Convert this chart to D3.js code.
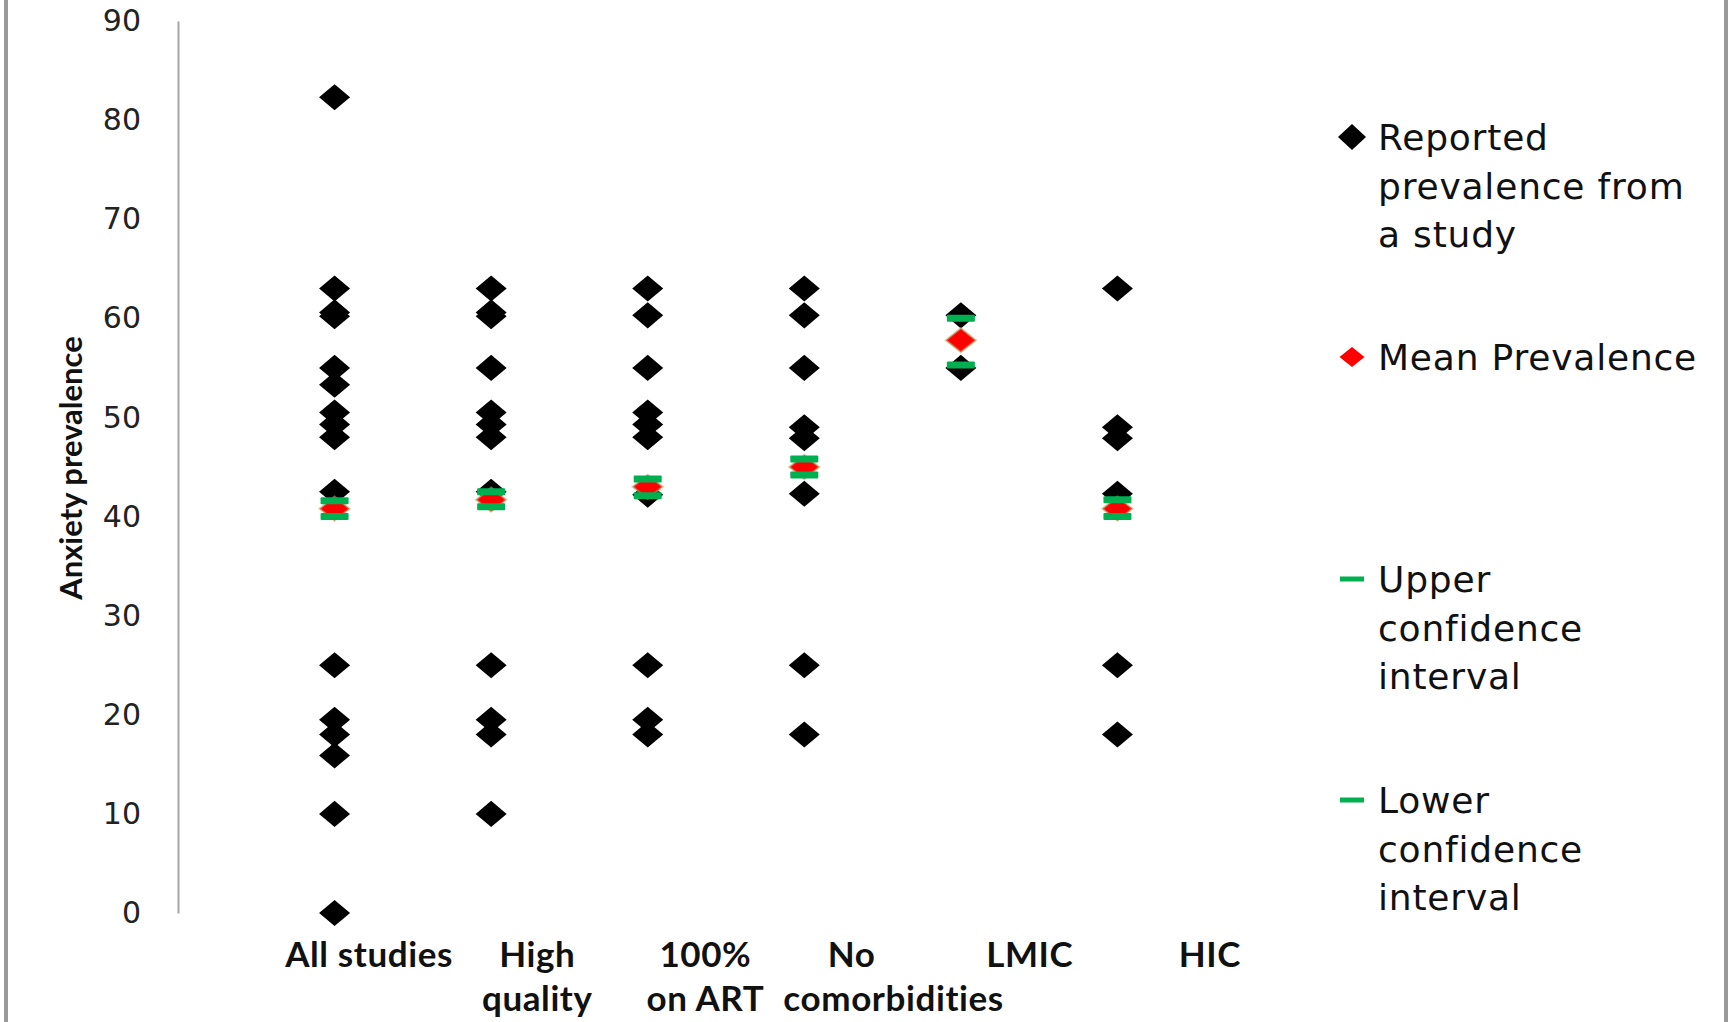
<!DOCTYPE html>
<html>
<head>
<meta charset="utf-8">
<script src="https://cdn.jsdelivr.net/npm/d3@7.9.0/dist/d3.min.js"></script>
<style>
  body { margin: 0; background: #fff; }
  svg { display: block; }
</style>
</head>
<body>
<svg id="chart" width="1729" height="1022"></svg>
<script>
// categories along the x axis
const categories = ["All studies", "High quality", "100% on ART", "No comorbidities", "LMIC", "HIC"];
const labelLines = [["All studies"], ["High", "quality"], ["100%", "on ART"], ["No", "comorbidities"], ["LMIC"], ["HIC"]];

// reported prevalence from each study, per category
const reported = [
  [82.3, 63, 60.6, 60.2, 55, 53.3, 50.5, 49.3, 48, 42.5, 25, 19.5, 18, 15.9, 10, 0],
  [63, 60.6, 60.2, 55, 50.5, 49.3, 48, 42.5, 25, 19.5, 18, 10],
  [63, 60.3, 55, 50.5, 49.3, 48, 42.2, 25, 19.5, 18],
  [63, 60.3, 55, 49, 47.9, 42.3, 25, 18],
  [60.3, 55],
  [63, 49, 47.9, 42.3, 25, 18]
];
const meanPrev = [40.8, 41.7, 43.0, 45.0, 57.8, 40.8];
const upperCI = [41.6, 42.5, 43.8, 45.8, 60.0, 41.7];
const lowerCI = [40.0, 41.0, 42.1, 44.2, 55.3, 40.0];
const yTicks = [0, 10, 20, 30, 40, 50, 60, 70, 80, 90];

const legendItems = [
  { kind: "black", lines: ["Reported", "prevalence from", "a study"] },
  { kind: "red", lines: ["Mean Prevalence"] },
  { kind: "green", lines: ["Upper", "confidence", "interval"] },
  { kind: "green", lines: ["Lower", "confidence", "interval"] }
];

const svg = d3.select("#chart");

// frame
svg.append("line").attr("x1", 6).attr("x2", 6).attr("y1", 0).attr("y2", 1022)
  .attr("stroke", "#9a9a9a").attr("stroke-width", 4);
svg.append("line").attr("x1", 1726).attr("x2", 1726).attr("y1", 0).attr("y2", 1022)
  .attr("stroke", "#9a9a9a").attr("stroke-width", 4);

const plotLeft = 178, plotRight = 1274;
const x = d3.scaleLinear().domain([0, 7]).range([plotLeft, plotRight]);
const y = d3.scaleLinear().domain([0, 90]).range([913, 21]);
const xLabel = d3.scaleBand().domain(categories).range([285, 1294]);

// y axis
const yAxis = svg.append("g")
  .attr("transform", `translate(${plotLeft},0)`)
  .call(d3.axisLeft(y).tickValues(yTicks).tickSize(0).tickPadding(37));
yAxis.select(".domain").attr("stroke", "#a6a6a6").attr("stroke-width", 2);
yAxis.selectAll("text")
  .attr("font-family", "DejaVu Sans")
  .attr("font-size", 30)
  .attr("fill", "#222");

svg.append("text")
  .attr("transform", `translate(82,468) rotate(-90)`)
  .attr("text-anchor", "middle")
  .attr("font-family", "Lato")
  .attr("font-weight", "bold")
  .attr("font-size", 31)
  .attr("fill", "#111")
  .text("Anxiety prevalence");

// x labels (the wrapped lines in the original are not quite centred, so nudge a couple)
const lineNudge = { "No comorbidities": [-22, 20], "LMIC": [-12] };
categories.forEach((c, i) => {
  const cx = xLabel(c) + xLabel.bandwidth() / 2;
  const t = svg.append("text")
    .attr("y", 967)
    .attr("text-anchor", "middle")
    .attr("font-family", "Lato")
    .attr("font-weight", "bold")
    .attr("font-size", 35)
    .attr("letter-spacing", 0.6)
    .attr("fill", "#111");
  labelLines[i].forEach((line, j) => {
    const nudge = lineNudge[c] ? lineNudge[c][j] : 0;
    t.append("tspan")
      .attr("x", cx + nudge)
      .attr("dy", j === 0 ? 0 : 44)
      .text(line);
  });
});

// diamond: a rotated square, squashed vertically
const diamond = (w) => d3.symbol().type(d3.symbolSquare).size((w / Math.SQRT2) ** 2)();

// reported studies
const studyPoints = reported.flatMap((vals, i) => vals.map(v => ({ i, v })));
svg.append("g").selectAll("path")
  .data(studyPoints)
  .join("path")
  .attr("d", diamond(31))
  .attr("transform", d => `translate(${x(d.i + 1)},${y(d.v)}) scale(1,0.84) rotate(45)`)
  .attr("fill", "#000");

// means
svg.append("g").selectAll("path")
  .data(meanPrev)
  .join("path")
  .attr("d", diamond(30))
  .attr("transform", (d, i) => `translate(${x(i + 1)},${y(d)}) scale(1,0.8) rotate(45)`)
  .attr("fill", "#ff0000")
  .attr("stroke", "rgba(175,180,120,0.55)")
  .attr("stroke-width", 2.5);

// confidence interval dashes
[upperCI, lowerCI].forEach(arr => {
  svg.append("g").selectAll("rect")
    .data(arr)
    .join("rect")
    .attr("x", (d, i) => x(i + 1) - 14)
    .attr("y", d => y(d) - 3.5)
    .attr("width", 28)
    .attr("height", 7)
    .attr("rx", 1)
    .attr("fill", "#00b050");
});

// legend
const legendTop = [137, 357, 579, 800];
const legend = svg.append("g");
legendItems.forEach((item, k) => {
  const cy = legendTop[k];
  if (item.kind === "black") {
    legend.append("path").attr("d", diamond(28))
      .attr("transform", `translate(1352,${cy}) scale(1,0.92) rotate(45)`)
      .attr("fill", "#000");
  } else if (item.kind === "red") {
    legend.append("path").attr("d", diamond(25))
      .attr("transform", `translate(1352,${cy}) scale(1,0.8) rotate(45)`)
      .attr("fill", "#ff0000");
  } else {
    legend.append("rect").attr("x", 1340).attr("y", cy - 2.5)
      .attr("width", 24).attr("height", 5).attr("fill", "#00b050");
  }
  const t = legend.append("text")
    .attr("x", 1378)
    .attr("y", cy + 13)
    .attr("font-family", "DejaVu Sans")
    .attr("font-size", 36)
    .attr("letter-spacing", 0.8)
    .attr("fill", "#111");
  item.lines.forEach((line, j) => {
    t.append("tspan").attr("x", 1378).attr("dy", j === 0 ? 0 : 48.5).text(line);
  });
});
</script>
</body>
</html>
